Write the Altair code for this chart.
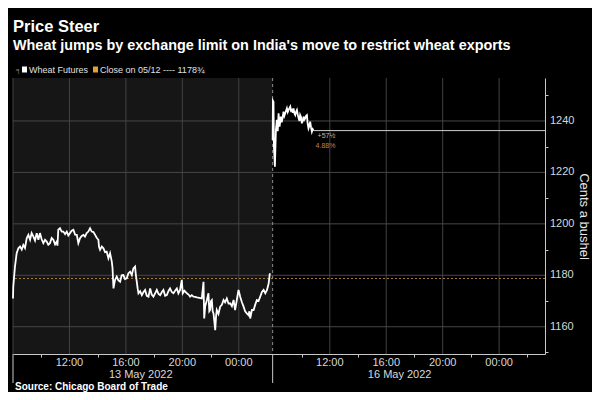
import altair as alt
import pandas as pd

# ---------------- data ----------------
# trading-time axis: t = hours from 13 May 2022 08:00 (weekend compressed)
day1_t = [0.00, 0.02, 0.14, 0.26, 0.38, 0.50, 0.62, 0.73, 0.85, 0.97, 1.09, 1.21, 1.32, 1.44, 1.56,
          1.68, 1.80, 1.91, 2.03, 2.15, 2.27, 2.39, 2.50, 2.62, 2.74, 2.86, 2.98, 3.10, 3.15, 3.21,
          3.33, 3.45, 3.57, 3.69, 3.81, 3.92, 4.04, 4.16, 4.28, 4.40, 4.52, 4.63, 4.75, 4.87, 4.99,
          5.10, 5.22, 5.34, 5.46, 5.58, 5.70, 5.82, 5.93, 6.05, 6.10, 6.17, 6.29, 6.41, 6.52, 6.64,
          6.76, 6.88, 7.00, 7.05, 7.12, 7.23, 7.35, 7.47, 7.59, 7.70, 7.82, 7.94, 8.06, 8.18, 8.30,
          8.42, 8.53, 8.65, 8.71, 8.77, 8.83, 8.89, 9.01, 9.13, 9.25, 9.36, 9.48, 9.60, 9.72, 9.83,
          9.95, 10.07, 10.19, 10.31, 10.43, 10.55, 10.66, 10.78, 10.90, 11.02, 11.13, 11.25, 11.37,
          11.49, 11.61, 11.72, 11.84, 11.96, 12.03, 12.15, 12.32, 12.44, 12.55, 12.67, 12.79, 12.91,
          13.03, 13.20, 13.38, 13.50, 13.55, 13.62, 13.74, 13.85, 13.91, 13.97, 14.03, 14.09, 14.15,
          14.21, 14.27, 14.33, 14.39, 14.44, 14.56, 14.68, 14.80, 14.92, 15.03, 15.15, 15.27, 15.39,
          15.51, 15.63, 15.74, 15.86, 15.98, 16.04, 16.10, 16.22, 16.34, 16.45, 16.57, 16.69, 16.75,
          16.81, 16.93, 17.05, 17.16, 17.28, 17.40, 17.52, 17.64, 17.76, 17.88, 18.00, 18.12, 18.20]
day1_p = [1171.0, 1175.6, 1183.4, 1188.6, 1190.5, 1191.2, 1190.0, 1191.8, 1190.6, 1194.4, 1195.7, 1193.8,
          1196.4, 1195.1, 1193.5, 1196.4, 1193.8, 1196.4, 1194.0, 1192.5, 1193.8, 1193.1, 1191.9, 1192.5,
          1194.5, 1193.8, 1192.0, 1193.1, 1191.5, 1197.7, 1198.3, 1197.0, 1197.0, 1196.0, 1197.0, 1195.5,
          1196.4, 1197.3, 1197.7, 1195.8, 1195.7, 1192.5, 1194.4, 1195.3, 1195.7, 1195.0, 1196.4, 1197.0,
          1198.3, 1197.0, 1196.8, 1195.7, 1194.6, 1193.8, 1191.0, 1189.9, 1191.2, 1190.5, 1189.0, 1189.2,
          1186.6, 1188.6, 1185.3, 1183.0, 1174.9, 1178.2, 1179.5, 1178.0, 1177.5, 1180.0, 1180.1, 1178.5,
          1178.8, 1180.8, 1181.4, 1180.1, 1182.7, 1183.4, 1180.0, 1177.5, 1175.0, 1173.0, 1173.8, 1172.3,
          1173.5, 1174.3, 1172.0, 1171.7, 1174.9, 1172.5, 1171.7, 1173.0, 1174.3, 1172.8, 1172.3, 1173.5,
          1174.3, 1172.0, 1172.3, 1173.9, 1174.9, 1173.5, 1173.0, 1174.0, 1174.9, 1173.0, 1174.3, 1178.2,
          1173.0, 1174.0, 1173.0, 1172.5, 1171.7, 1172.3, 1171.7, 1171.6, 1171.4, 1171.2, 1171.0, 1177.5,
          1163.2, 1168.0, 1170.4, 1173.0, 1166.0, 1166.5, 1170.0, 1170.4, 1166.0, 1165.2, 1162.0, 1158.7,
          1164.0, 1166.5, 1165.0, 1167.8, 1168.5, 1170.4, 1169.5, 1171.0, 1169.0, 1169.1, 1168.0, 1170.4,
          1166.5, 1170.4, 1174.3, 1173.0, 1171.7, 1169.5, 1167.8, 1166.0, 1165.2, 1164.5, 1166.0, 1163.2,
          1166.5, 1166.5, 1168.5, 1170.4, 1170.0, 1171.7, 1173.5, 1174.3, 1173.0, 1174.3, 1176.9, 1180.8]

day2_t = [18.40, 18.42, 18.46, 18.49, 18.56, 18.63, 18.70, 18.76, 18.82, 18.89, 18.98, 19.04, 19.10,
          19.17, 19.23, 19.29, 19.41, 19.47, 19.53, 19.65, 19.70, 19.76, 19.82, 19.88, 19.94, 20.00,
          20.06, 20.12, 20.18, 20.24, 20.30, 20.35, 20.41, 20.47, 20.53, 20.59, 20.65, 20.71, 20.77,
          20.83, 20.88, 20.94, 21.00, 21.06, 21.12, 21.18, 21.24, 21.30]
day2_p = [1232.6, 1247.9, 1247.5, 1230.0, 1222.2, 1236.5, 1240.4, 1236.0, 1243.0, 1237.8, 1241.7, 1239.5,
          1241.0, 1243.6, 1242.0, 1243.0, 1244.9, 1243.5, 1244.3, 1245.6, 1244.0, 1244.3, 1243.2, 1244.9,
          1243.0, 1242.3, 1243.6, 1244.3, 1242.5, 1241.0, 1240.0, 1242.3, 1241.5, 1239.1, 1240.0, 1241.7,
          1240.5, 1241.0, 1242.0, 1242.3, 1239.0, 1237.1, 1238.0, 1239.7, 1237.5, 1235.8, 1236.8, 1236.25]

prev_close = 1178.75
separator_t = 18.4
axis_end_t = 37.7
y_domain = [1149.4, 1256.7]

x_tick_t = [4, 8, 12, 16, 22.45, 26.45, 30.45, 34.45]
x_tick_labels = ["12:00", "16:00", "20:00", "00:00", "12:00", "16:00", "20:00", "00:00"]
x_minor_t = [2, 6, 10, 14, 20.45, 24.45, 28.45, 32.45, 36.45]
day_labels = ["13 May 2022", "16 May 2022"]
day_label_t = [9.05, 27.4]
day_start_t = [0, separator_t]
y_grid = [1160, 1180, 1200, 1220, 1240]
y_grid_labels = ["1160", "1180", "1200", "1220", "1240"]
y_ticks = [1150, 1160, 1170, 1180, 1190, 1200, 1210, 1220, 1230, 1240, 1250]

change_text = "+57½"
pct_text = "4.88%"

# ---------------- layout ----------------
W, H = 532, 276
FONT = "Liberation Sans"

line_df = pd.DataFrame({
    "t": day1_t + day2_t,
    "price": day1_p + day2_p,
    "seg": ["d1"] * len(day1_t) + ["d2"] * len(day2_t),
})

xs = alt.Scale(domain=[0, axis_end_t], nice=False, zero=False)
ys = alt.Scale(domain=y_domain, nice=False, zero=False)

x_axis = alt.Axis(values=sorted(x_tick_t + x_minor_t), labels=False, grid=False,
                  domainColor="#c8c8c8", tickColor="#c8c8c8", tickSize=3, title=None)
y_axis = alt.Axis(orient="right", values=y_ticks, labels=False,
                  grid=False, domainColor="#c8c8c8", tickColor="#c8c8c8", tickSize=3,
                  title="Cents a bushel", titleColor="#e8e8e8", titleFontSize=13,
                  titleFont=FONT, titleFontWeight="normal", titleAngle=90, titleX=38,
                  titleY=H / 2, titleAlign="center", titleBaseline="middle")

bg = alt.Chart(pd.DataFrame({"t0": [0], "t1": [separator_t]})).mark_rect(color="#161616").encode(
    x=alt.X("t0:Q", scale=xs, axis=x_axis), x2="t1:Q", y=alt.value(0), y2=alt.value(H))

vgrid = alt.Chart(pd.DataFrame({"t": [0] + x_tick_t})).mark_rule(
    color="#424242", strokeWidth=1).encode(x=alt.X("t:Q", scale=xs))

hgrid = alt.Chart(pd.DataFrame({"p": y_grid})).mark_rule(
    color="#474747", strokeWidth=1).encode(y=alt.Y("p:Q", scale=ys, axis=y_axis))

sep = alt.Chart(pd.DataFrame({"t": [separator_t]})).mark_rule(
    color="#8c8c8c", strokeWidth=1, strokeDash=[3, 3]).encode(x=alt.X("t:Q", scale=xs))

close_line = alt.Chart(pd.DataFrame({"p": [prev_close]})).mark_rule(
    color="#a87a3c", strokeWidth=1, strokeDash=[2, 2]).encode(y=alt.Y("p:Q", scale=ys))

last_df = pd.DataFrame({"t": [day2_t[-1]], "t2": [axis_end_t], "p": [day2_p[-1]],
                        "c": [change_text], "pc": [pct_text]})
last_line = alt.Chart(last_df).mark_rule(color="#cfcfcf", strokeWidth=1).encode(
    x=alt.X("t:Q", scale=xs), x2="t2:Q", y=alt.Y("p:Q", scale=ys))

price = alt.Chart(line_df).mark_line(color="#ffffff", strokeWidth=1.8,
                                     strokeJoin="miter", interpolate="linear").encode(
    x=alt.X("t:Q", scale=xs), y=alt.Y("price:Q", scale=ys), detail="seg:N")

ann1 = alt.Chart(last_df).mark_text(align="left", baseline="middle", dx=4, dy=5,
                                    fontSize=7, font=FONT, color="#c9b8a6").encode(
    x=alt.X("t:Q", scale=xs), y=alt.Y("p:Q", scale=ys), text="c:N")
ann2 = alt.Chart(last_df).mark_text(align="left", baseline="middle", dx=2, dy=15.5,
                                    fontSize=7, font=FONT, color="#c0824a").encode(
    x=alt.X("t:Q", scale=xs), y=alt.Y("p:Q", scale=ys), text="pc:N")

long_ticks = alt.Chart(pd.DataFrame({"t": day_start_t})).mark_rule(
    color="#c8c8c8", strokeWidth=1).encode(x=alt.X("t:Q", scale=xs), y=alt.value(H), y2=alt.value(H + 29))

x_labels = alt.Chart(pd.DataFrame({"t": x_tick_t, "l": x_tick_labels})).mark_text(
    baseline="middle", align="center", fontSize=11, font=FONT, color="#d8d8d8").encode(
    x=alt.X("t:Q", scale=xs), y=alt.value(H + 9), text="l:N")

day_text = alt.Chart(pd.DataFrame({"t": day_label_t, "l": day_labels})).mark_text(
    baseline="middle", align="center", fontSize=11, font=FONT, color="#d8d8d8").encode(
    x=alt.X("t:Q", scale=xs), y=alt.value(H + 21), text="l:N")

y_labels = alt.Chart(pd.DataFrame({"p": y_grid, "l": y_grid_labels})).mark_text(
    baseline="middle", align="left", fontSize=11, font=FONT, color="#d8d8d8").encode(
    x=alt.value(W + 5), y=alt.Y("p:Q", scale=ys), text="l:N")


def txt(s, x, y, size, weight="normal", color="#ffffff", font=FONT, baseline="alphabetic"):
    return alt.Chart(pd.DataFrame({"s": [s]})).mark_text(
        align="left", baseline=baseline, fontSize=size, fontWeight=weight, color=color,
        font=font).encode(x=alt.value(x), y=alt.value(y), text="s:N")


title = txt("Price Steer", 0, -46.3, 16.5, "bold")
subtitle = txt("Wheat jumps by exchange limit on India's move to restrict wheat exports",
               0, -28, 14.4, "bold")
leg1 = txt("Wheat Futures", 16, -8.5, 9, color="#e0e0e0", baseline="middle")
leg2 = txt("Close on 05/12 ---- 1178¾", 87, -8.5, 9, color="#e0e0e0", baseline="middle")
icon = txt("╕", 3, -8.5, 7, color="#8a8a8a", baseline="middle")
sq1 = alt.Chart(pd.DataFrame({"a": [0]})).mark_rect(color="#ffffff").encode(
    x=alt.value(9), x2=alt.value(14), y=alt.value(-11.5), y2=alt.value(-5.5))
sq2 = alt.Chart(pd.DataFrame({"a": [0]})).mark_rect(color="#e0a040").encode(
    x=alt.value(80), x2=alt.value(85), y=alt.value(-11.5), y2=alt.value(-5.5))
source = txt("Source: Chicago Board of Trade", 2, 312, 10, "bold")

chart = alt.layer(
    bg, vgrid, hgrid, sep, close_line, last_line, price, ann1, ann2,
    long_ticks, x_labels, day_text, y_labels, title, subtitle, leg1, leg2, icon, sq1, sq2, source
).properties(
    width=W, height=H,
    padding={"left": 5, "top": 70, "right": 47, "bottom": 38},
    autosize=alt.AutoSizeParams(type="none"),
    background="#000000",
).configure_view(stroke=None)

chart.save("out.html", embed_options={"renderer": "svg", "actions": False})
